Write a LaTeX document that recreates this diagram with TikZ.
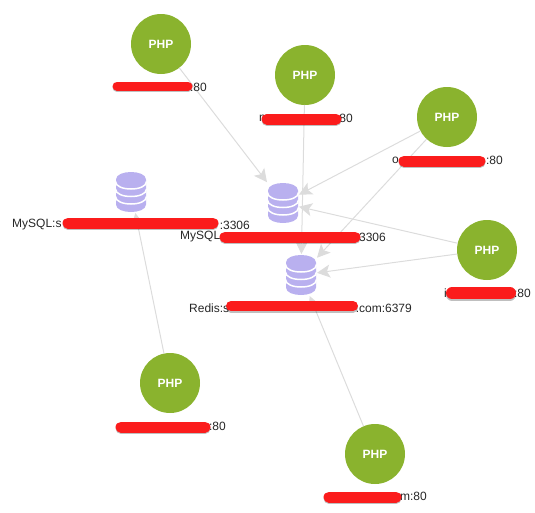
\documentclass[tikz,border=0pt]{standalone}
\usepackage{fontspec}
\setmainfont{Liberation Sans}
\usetikzlibrary{arrows.meta}
\definecolor{phpgreen}{HTML}{8AB32E}
\definecolor{dblilac}{HTML}{B9B0EF}
\definecolor{linkgray}{HTML}{DCDCDC}
\definecolor{scribred}{HTML}{FB1C1C}
\newcommand{\dbicon}[1]{%
  \begin{scope}[shift={(#1)}]
    \fill[dblilac] (-15,-12.5) -- (-15,12.5) .. controls (-15,22.5) and (15,22.5) .. (15,12.5) -- (15,-12.5) .. controls (15,-22.5) and (-15,-22.5) .. cycle;
    \foreach \ya in {-10.5,-3,4.5}
      \draw[white,line width=1.5pt] (-15.5,\ya) .. controls (-15.5,\ya+10) and (15.5,\ya+10) .. (15.5,\ya);
  \end{scope}}
\begin{document}
\begin{tikzpicture}[x=1pt,y=-1pt,>={Stealth[length=13pt,width=13pt,inset=3pt]},
  phpnode/.style={circle,fill=phpgreen,text=white,minimum size=60pt,inner sep=0pt,outer sep=0pt,font=\fontsize{12}{14}\selectfont\bfseries},
  dbnode/.style={rectangle,minimum width=32pt,minimum height=42pt,inner sep=0pt,outer sep=0pt},
  link/.style={->,draw=linkgray,line width=1pt},
  lbl/.style={inner sep=0pt,text=black!85,font=\fontsize{12}{14}\selectfont},
  scrib/.style={draw=scribred,line cap=round},
  scribshadow/.style={draw=black,opacity=0.25,line cap=round}]
\useasboundingbox (0,0) rectangle (535,512);
\node[phpnode] (p1) at (161,44) {PHP};
\node[phpnode] (p2) at (305,75) {PHP};
\node[phpnode] (p3) at (447,117) {PHP};
\node[phpnode] (p4) at (487,250) {PHP};
\node[phpnode] (p5) at (170,383) {PHP};
\node[phpnode] (p6) at (375,454) {PHP};
\node[dbnode] (d1) at (131,192) {};
\node[dbnode] (d2) at (283,203) {};
\node[dbnode] (d3) at (301,275) {};
\dbicon{d1}
\dbicon{d2}
\dbicon{d3}
\foreach \src/\dst in {p1/d2,p3/d2,p4/d2,p2/d3,p3/d3,p4/d3,p6/d3,p5/d1}
  \draw[link] (\src) -- (\dst);
\node[lbl,anchor=east] (t1) at (207,87) {:80};
\node[lbl,anchor=west] (t2a) at (259,118) {m};
\node[lbl,anchor=east] (t2b) at (353,118) {:80};
\node[lbl,anchor=west] (t3a) at (392,160) {o};
\node[lbl,anchor=east] (t3b) at (503,160) {:80};
\node[lbl,anchor=west] (t4a) at (444,293) {i};
\node[lbl,anchor=east] (t4b) at (531,293) {:80};
\node[lbl,anchor=east] (t5) at (226,426) {:80};
\node[lbl,anchor=east] (t6) at (427,496) {m:80};
\node[lbl,anchor=west] (m1a) at (12,225) {MySQL:s};
\node[lbl,anchor=east] (m1b) at (250,225) {:3306};
\node[lbl,anchor=west] (m2a) at (180,237) {MySQL};
\node[lbl,anchor=east] (m2b) at (386,237) {:3306};
\node[lbl,anchor=west] (r1a) at (189,308) {Redis:s};
\node[lbl,anchor=east] (r1b) at (412,308) {.com:6379};
% red bars over the hidden parts of the labels
\foreach \xa/\xb/\yb/\barw in {117/188/86/9,267/336/119/11,404/480/161/11,452/510/293/12,121/205/427/11,329/396/497/11,68/213/223/11,225/355/237/11,231/353/306/10}{
  \draw[scribshadow,line width=\barw pt] (\xa,\yb+1.5) -- (\xb,\yb+1.5);
  \draw[scrib,line width=\barw pt] (\xa,\yb) -- (\xb,\yb);
}
\end{tikzpicture}
\end{document}
